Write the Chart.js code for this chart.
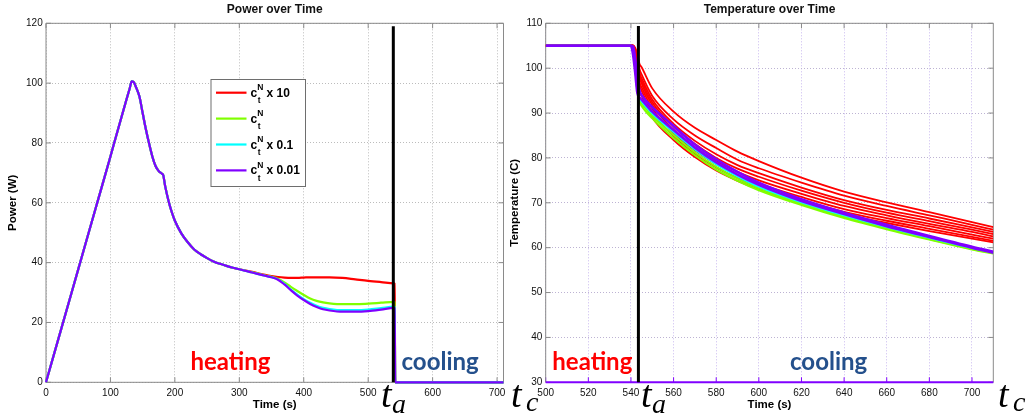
<!DOCTYPE html>
<html><head><meta charset="utf-8">
<script src="https://cdn.jsdelivr.net/npm/chart.js@4.4.1/dist/chart.umd.min.js"></script>
<style>
html,body{margin:0;padding:0;background:#fff;overflow:hidden}
#wrap{position:relative;width:1033px;height:419px}
canvas{position:absolute;left:0;top:0}
</style></head><body>
<div id="wrap"><canvas id="cR" width="1033" height="419"></canvas><canvas id="cL" width="1033" height="419"></canvas></div>
<script>
// ================= DATA =================
const legendSuffix = ['x 10', '', 'x 0.1', 'x 0.01'];
const seriesColors = ['#ff0000', '#80ff00', '#00ffff', '#8000ff'];

// tick values
const powerXTicks = [0,100,200,300,400,500,600,700];
const powerYTicks = [0,20,40,60,80,100,120];
const tempXTicks = [500,520,540,560,580,600,620,640,660,680,700];
const tempYTicks = [30,40,50,60,70,80,90,100,110];

// Power over Time (left)
const powerTime = [0,20,40,60,80,100,107,115,125,130,133,136,140,145,150,155,160,165,170,175,180,182,185,190,195,200,210,220,230,240,250,260,270,280,290,300,
  320,340,350,360,370,380,390,400,410,420,430,440,460,480,500,520,540,541,542,600,710];
const powerShared = [0,15.1,30.2,45.3,60.4,75.5,80.9,87.0,94.6,98.3,100.6,100.4,98.5,95.5,90.0,84.6,79.8,75.5,72.3,70.6,69.7,69.2,65.5,60.8,57.0,54.0,49.8,46.8,44.4,42.8,41.5,40.4,39.6,38.9,38.3,37.8];
const powerRedTail    = [36.9,35.9,35.5,35.2,35.0,34.9,34.9,35.0,35.1,35.1,35.1,35.1,34.9,34.4,33.9,33.5,33.1,33.0,0,0,0];
const powerGreenTail  = [36.8,35.7,35.3,34.6,33.4,31.9,30.5,29.2,28.0,27.2,26.7,26.4,26.1,26.1,26.3,26.6,26.9,26.8,0,0,0];
const powerCyanTail   = [36.7,35.6,35.1,34.4,32.9,31.0,29.3,27.8,26.6,25.6,24.9,24.5,24.1,24.1,24.3,24.8,25.3,25.2,0,0,0];
const powerPurpleTail = [36.7,35.6,35.1,34.3,32.7,30.8,29.0,27.5,26.2,25.2,24.4,24.0,23.6,23.6,23.8,24.3,24.9,24.8,0,0,0];
const powerSwitchTime = 539;

// Temperature over Time (right)
const tempTime = [500,540,541,542,543,544,545,550,560,570,580,590,600,620,640,660,680,700,710];
const tempRed = [
  [105,105,105,104.5,103,101,100.2,95.5,90.3,86.7,84.0,81.4,79.3,75.6,72.5,70.1,67.9,65.7,64.6],
  [105,105,105,104.3,102.5,99.8,98.6,93.8,88.6,85.0,82.2,79.6,77.7,74.5,71.6,69.3,67.2,65.1,64.0],
  [105,105,105,104,102,99,97.8,93.0,87.6,83.8,80.8,78.4,76.6,73.4,70.6,68.4,66.5,64.5,63.5],
  [105,105,105,104,101.8,98.5,97.2,92.4,87.0,83.1,80.0,77.6,75.8,72.7,70.0,67.8,65.9,64.0,63.0],
  [105,105,105,103.8,101.5,98,96.6,91.8,86.3,82.4,79.3,76.9,75.0,72.0,69.3,67.2,65.3,63.5,62.5],
  [105,105,105,103.6,101,97,95.8,91.0,85.6,81.7,78.6,76.2,74.3,71.3,68.6,66.6,64.8,62.9,62.0],
  [105,105,105,103.4,100.5,96.5,95.0,90.2,84.9,81.0,77.9,75.5,73.6,70.6,68.0,66.0,64.2,62.4,61.5],
  [105,105,105,103,100,95,93.8,89.0,84.0,80.2,77.2,74.9,73.0,70.0,67.4,65.5,63.7,62.0,61.2]
];
const tempGreen = [
  [105,105,104.5,101,96,93.0,92.2,89.4,85.1,81.2,78.0,75.4,73.2,69.8,66.9,64.3,61.9,59.7,58.8],
  [105,105,104,100,95,92.5,91.6,88.8,84.4,80.6,77.4,74.9,72.8,69.5,66.6,64.1,61.8,59.6,58.7]
];
const tempCyan = [
  [105,105,104,100,95,93.3,92.6,89.9,85.8,81.9,78.6,75.9,73.6,70.1,67.2,64.6,62.2,59.9,58.9]
];
const tempPurple = [
  [105,105,104.8,102,98,95,94.0,91.3,87.1,83.0,79.7,76.9,74.5,70.8,67.8,65.1,62.6,60.2,59.1],
  [105,105,103,99,94.5,93.5,93.0,90.3,86.2,82.3,79.0,76.3,74.0,70.4,67.5,64.8,62.4,60.0,58.9]
];
const tempSwitchTime = 543.5;

// ================= HELPERS =================
const SANS = "'Liberation Sans', Arial, Helvetica, sans-serif";
const SERIF = "'Liberation Serif', 'DejaVu Serif', serif";
const pts = (xs, ys) => xs.map((x, i) => ({x, y: ys[i]}));

function makeFrame(cfg) {
  return {
    id: 'frame',
    beforeDatasetsDraw(chart) {
      const {ctx, chartArea: a, scales: {x, y}} = chart;
      ctx.save();
      ctx.setLineDash([]);
      ctx.lineWidth = 1;
      const len = 5;
      cfg.xTicks.forEach(v => {
        const px = x.getPixelForValue(v);
        ctx.strokeStyle = cfg.bottomTick || cfg.color;
        ctx.beginPath(); ctx.moveTo(px, a.bottom); ctx.lineTo(px, a.bottom - len); ctx.stroke();
        ctx.strokeStyle = cfg.color;
        ctx.beginPath(); ctx.moveTo(px, a.top); ctx.lineTo(px, a.top + len); ctx.stroke();
      });
      cfg.yTicks.forEach(v => {
        const py = y.getPixelForValue(v);
        ctx.strokeStyle = cfg.color;
        ctx.beginPath(); ctx.moveTo(a.left, py); ctx.lineTo(a.left + len, py); ctx.stroke();
        ctx.beginPath(); ctx.moveTo(a.right, py); ctx.lineTo(a.right - len, py); ctx.stroke();
      });
      ctx.strokeStyle = cfg.color;
      ctx.beginPath();
      ctx.moveTo(a.left, a.bottom); ctx.lineTo(a.left, a.top); ctx.lineTo(a.right, a.top); ctx.lineTo(a.right, a.bottom);
      ctx.stroke();
      ctx.strokeStyle = cfg.bottomColor || cfg.color;
      ctx.lineWidth = cfg.bottomWidth || 1;
      ctx.beginPath(); ctx.moveTo(a.left, a.bottom); ctx.lineTo(a.right, a.bottom); ctx.stroke();
      ctx.restore();
    },
    afterDraw(chart) {
      const {ctx, chartArea: a, scales: {x}} = chart;
      ctx.save();
      ctx.setLineDash([]);
      ctx.font = 'bold 12px ' + SANS; ctx.fillStyle = '#111';
      ctx.textAlign = 'center'; ctx.textBaseline = 'middle';
      ctx.fillText(cfg.title, (a.left + a.right) / 2, 10);
      if (cfg.legend) {
        const L = cfg.legend;
        ctx.fillStyle = '#fff'; ctx.fillRect(L.x, L.y, L.w, L.h);
        ctx.strokeStyle = '#6e6e6e'; ctx.lineWidth = 1; ctx.strokeRect(L.x + 0.5, L.y + 0.5, L.w, L.h);
        ctx.textAlign = 'left'; ctx.textBaseline = 'alphabetic';
        legendSuffix.forEach((s, i) => {
          const ly = L.y + L.first + i * L.step;
          ctx.strokeStyle = seriesColors[i]; ctx.lineWidth = 2.2;
          ctx.beginPath(); ctx.moveTo(L.x + 5.5, ly); ctx.lineTo(L.x + 36, ly); ctx.stroke();
          const tx = L.x + 40;
          ctx.fillStyle = '#000';
          ctx.font = 'bold 12px ' + SANS;
          ctx.fillText('c', tx, ly + 4);
          const cw = ctx.measureText('c').width;
          ctx.font = 'bold 8.5px ' + SANS;
          ctx.fillText('N', tx + cw, ly - 2.5);
          ctx.fillText('t', tx + cw + 0.5, ly + 10.5);
          if (s) { ctx.font = 'bold 12px ' + SANS; ctx.fillText(s, L.x + 56, ly + 4); }
        });
      }
      ctx.textAlign = 'left'; ctx.textBaseline = 'alphabetic';
      cfg.texts.forEach(t => {
        ctx.font = t.font; ctx.fillStyle = t.color;
        ctx.fillText(t.text, t.x, t.y);
      });
      ctx.font = '10px ' + SANS; ctx.fillStyle = '#111';
      ctx.textAlign = 'center'; ctx.textBaseline = 'middle';
      cfg.xTicks.forEach(v => ctx.fillText(String(v), x.getPixelForValue(v), a.bottom + 10.5));
      ctx.restore();
    }
  };
}

function axisCommon(min, max, tickVals, title, isX, gridColor, size, pad, titlePad) {
  return {
    type: 'linear', min, max,
    afterBuildTicks(s) { s.ticks = tickVals.map(v => ({ value: v })); },
    afterFit(s) { if (isX) s.height = size; else s.width = size; },
    ticks: { display: !isX, color: '#111', padding: pad, maxRotation: 0, minRotation: 0, autoSkip: false,
             font: { family: SANS, size: 10 } },
    grid: { color: gridColor, drawTicks: false, lineWidth: 1 },
    border: { display: false, dash: [1, 2] },
    title: { display: true, text: title, color: '#000', font: { family: SANS, size: 11.5, weight: 'bold' },
             padding: isX ? { top: 0, bottom: titlePad } : { top: titlePad, bottom: 0 } }
  };
}

const mathFontT = 'italic 38px ' + SERIF;
const mathFontS = 'italic 28px ' + SERIF;
const heatFont = 'bold 24px Lato, ' + SANS;
const heatColor = '#ff0000';
const coolColor = '#24508c';

// ================= LEFT CHART =================
const leftDatasets = [
  { tail: powerRedTail, c: 0 }, { tail: powerGreenTail, c: 1 }, { tail: powerCyanTail, c: 2 }, { tail: powerPurpleTail, c: 3 }
].map(d => ({
  data: pts(powerTime, powerShared.concat(d.tail)),
  borderColor: seriesColors[d.c], borderWidth: 2.2, order: 10 - d.c, clip: false,
  cubicInterpolationMode: 'monotone', pointRadius: 0
}));
leftDatasets.push({ data: [{x: powerSwitchTime, y: 0}, {x: powerSwitchTime, y: 119}], borderColor: '#000',
  borderWidth: 3, order: 0, pointRadius: 0, clip: false });

new Chart(document.getElementById('cL'), {
  type: 'line',
  data: { datasets: leftDatasets },
  options: {
    responsive: false, animation: false, events: [],
    layout: { padding: { left: 0, right: 1033 - 503.5, top: 23.3, bottom: 0 } },
    plugins: { legend: { display: false }, title: { display: false }, tooltip: { enabled: false } },
    scales: {
      x: axisCommon(0, 710, powerXTicks, 'Time (s)', true, '#bcbcbc', 36.7, 5, 7.4),
      y: axisCommon(0, 120, powerYTicks, 'Power (W)', false, '#bcbcbc', 46, 3.3, 6.4)
    }
  },
  plugins: [makeFrame({
    color: '#8a8a8a', xTicks: powerXTicks, yTicks: powerYTicks,
    title: 'Power over Time',
    legend: { x: 210.5, y: 79, w: 94.5, h: 107, first: 13.7, step: 25.9 },
    texts: [
      { text: 'heating', x: 190.5, y: 370, font: heatFont, color: heatColor },
      { text: 'cooling', x: 401.5, y: 370, font: heatFont, color: coolColor },
      { text: 't', x: 381, y: 407, font: mathFontT, color: '#000' },
      { text: 'a', x: 392, y: 413, font: mathFontS, color: '#000' },
      { text: 't', x: 511, y: 407, font: mathFontT, color: '#000' },
      { text: 'c', x: 526, y: 411, font: mathFontS, color: '#000' }
    ]
  })]
});

// ================= RIGHT CHART =================
const rightDatasets = [];
const addTemp = (arr, c, w) => arr.forEach(ys => rightDatasets.push({
  data: pts(tempTime, ys), borderColor: seriesColors[c], borderWidth: w, order: 10 - c,
  cubicInterpolationMode: 'monotone', pointRadius: 0
}));
addTemp(tempRed, 0, 1.8);
addTemp(tempGreen, 1, 2);
addTemp(tempCyan, 2, 2);
addTemp(tempPurple, 3, 2.6);
rightDatasets.push({ data: [{x: tempSwitchTime, y: 30}, {x: tempSwitchTime, y: 109.4}], borderColor: '#000',
  borderWidth: 3, order: 0, pointRadius: 0, clip: false });

new Chart(document.getElementById('cR'), {
  type: 'line',
  data: { datasets: rightDatasets },
  options: {
    responsive: false, animation: false, events: [],
    layout: { padding: { left: 505.7, right: 1033 - 993.3, top: 23.3, bottom: 0 } },
    plugins: { legend: { display: false }, title: { display: false }, tooltip: { enabled: false } },
    scales: {
      x: axisCommon(500, 710, tempXTicks, 'Time (s)', true, '#c9b9ef', 36.7, 5, 7.4),
      y: axisCommon(30, 110, tempYTicks, 'Temperature (C)', false, '#bdb3d3', 40, 3.3, 2.7)
    }
  },
  plugins: [makeFrame({
    color: '#8a8a8a', bottomColor: '#8000ff', bottomWidth: 2, bottomTick: '#8000ff',
    xTicks: tempXTicks, yTicks: tempYTicks,
    title: 'Temperature over Time',
    texts: [
      { text: 'heating', x: 552.3, y: 370, font: heatFont, color: heatColor },
      { text: 'cooling', x: 790, y: 370, font: heatFont, color: coolColor },
      { text: 't', x: 641, y: 407, font: mathFontT, color: '#000' },
      { text: 'a', x: 652, y: 413, font: mathFontS, color: '#000' },
      { text: 't', x: 998, y: 407, font: mathFontT, color: '#000' },
      { text: 'c', x: 1013, y: 411, font: mathFontS, color: '#000' }
    ]
  })]
});
</script>
</body></html>
